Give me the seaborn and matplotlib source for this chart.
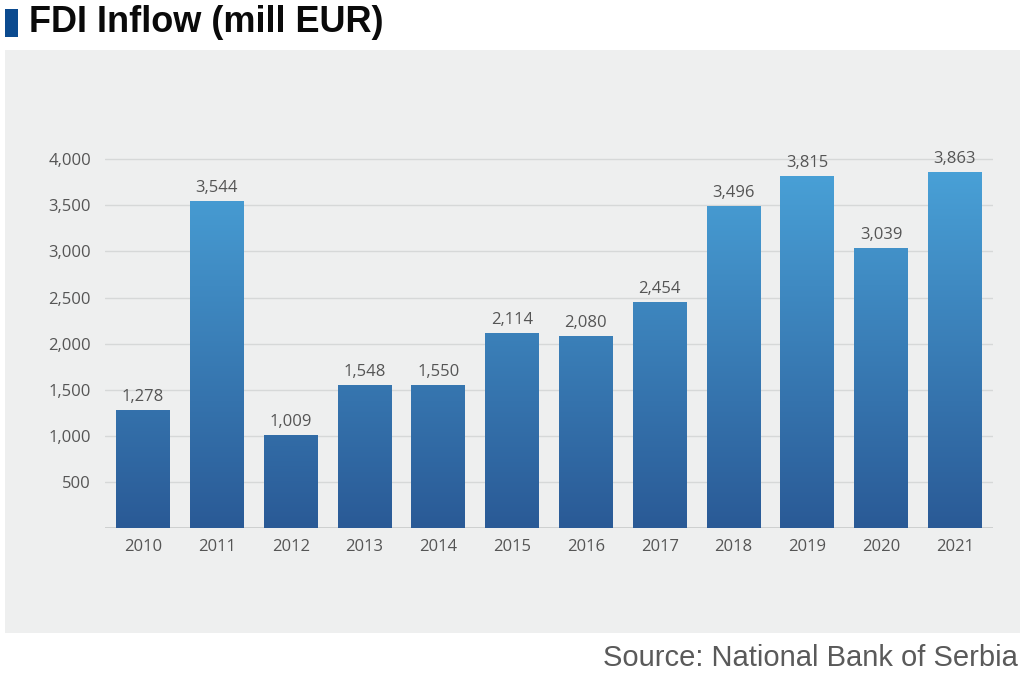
import numpy as np
import matplotlib
matplotlib.use("Agg")
import matplotlib.pyplot as plt
import matplotlib.patches as mpatches
from matplotlib.colors import LinearSegmentedColormap
import pandas as pd
import seaborn as sns

# data
years = ["2010", "2011", "2012", "2013", "2014", "2015",
         "2016", "2017", "2018", "2019", "2020", "2021"]
fdi = [1278, 3544, 1009, 1548, 1550, 2114, 2080, 2454, 3496, 3815, 3039, 3863]
yticks = [500, 1000, 1500, 2000, 2500, 3000, 3500, 4000]

df = pd.DataFrame({"year": years, "fdi": fdi})

sns.set_theme(style="white")
plt.rcParams["font.family"] = ["Open Sans", "DejaVu Sans"]

fig = plt.figure(figsize=(10.24, 6.76), dpi=100)
fig.patch.set_facecolor("white")

# grey panel behind the chart
fig.add_artist(mpatches.Rectangle((5 / 1024, 1 - 633 / 676), 1015 / 1024, 583 / 676,
                                  transform=fig.transFigure, facecolor="#eeefef",
                                  edgecolor="none", zorder=0))
# title marker + title
fig.add_artist(mpatches.Rectangle((5 / 1024, 1 - 37 / 676), 13 / 1024, 28 / 676,
                                  transform=fig.transFigure, facecolor="#0b4a8f",
                                  edgecolor="none"))
fig.text(29 / 1024, 1 - 22 / 676, "FDI Inflow (mill EUR)", fontsize=26,
         fontweight="bold", family=["Liberation Sans", "DejaVu Sans"],
         color="#0a0a0a", va="center", ha="left")
fig.text(1018 / 1024, 1 - 658 / 676, "Source: National Bank of Serbia", fontsize=21,
         family=["Liberation Sans", "DejaVu Sans"], color="#5a5a5a",
         va="center", ha="right")

ax = fig.add_axes([105 / 1024, 1 - 528 / 676, 888 / 1024, 424 / 676])
ax.set_facecolor("none")

sns.barplot(data=df, x="year", y="fdi", ax=ax, width=0.73, color="#3a7fbd",
            saturation=1, zorder=2)

# vertical gradient fill on each bar
cmap = LinearSegmentedColormap.from_list("fdi", ["#2a5a96", "#4aa3d9"])
grad = np.linspace(0, 1, 256).reshape(-1, 1)
for p in ax.patches:
    x0 = p.get_x()
    x1 = x0 + p.get_width()
    im = ax.imshow(grad, cmap=cmap, origin="lower", aspect="auto",
                   extent=[x0, x1, 0, 4000], zorder=2)
    im.set_clip_path(p)
    p.set_facecolor("none")
    p.set_edgecolor("none")
ax.set_xlim(-0.515, len(years) - 0.485)
ax.set_ylim(0, 4600)

for i, v in enumerate(fdi):
    ax.text(i, v + 55, f"{v:,}", ha="center", va="bottom", fontsize=12,
            color="#555555")

ax.set_yticks(yticks)
ax.set_yticklabels([f"{t:,}" for t in yticks])
ax.grid(axis="y", color="#d6d8d8", linewidth=1, zorder=0)
ax.axhline(0, color="#c8caca", linewidth=1.2, zorder=1)
ax.set_axisbelow(True)
for s in ax.spines.values():
    s.set_visible(False)
ax.tick_params(axis="both", length=0, labelsize=12, colors="#555555")
ax.tick_params(axis="y", pad=10)
ax.tick_params(axis="x", pad=8)
ax.set_xlabel("")
ax.set_ylabel("")

fig.savefig("out.png", dpi=100)
